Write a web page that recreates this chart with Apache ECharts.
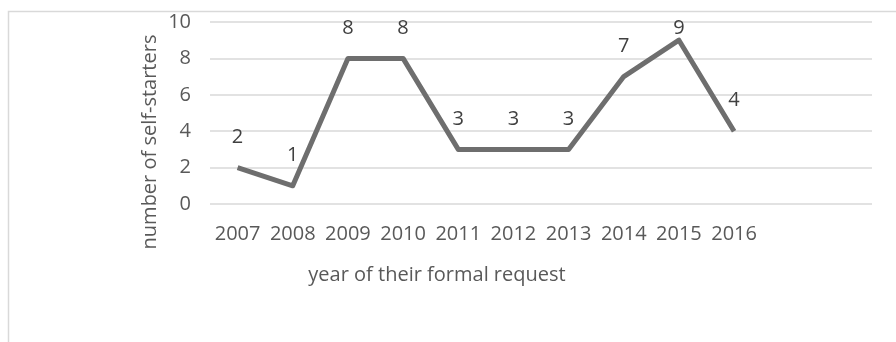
<!DOCTYPE html>
<html>
<head>
<meta charset="utf-8">
<script src="https://cdn.jsdelivr.net/npm/echarts@6/dist/echarts.min.js"></script>
<style>html,body{margin:0;padding:0;background:#fff}#c{width:896px;height:342px}</style>
</head>
<body>
<div id="c"></div>
<script>
var categories = ['2007','2008','2009','2010','2011','2012','2013','2014','2015','2016','',''];
var values = [2, 1, 8, 8, 3, 3, 3, 7, 9, 4, null, null];
var yTicks = { min: 0, max: 10, interval: 2 };
var xTitle = 'year of their formal request';
var yTitle = 'number of self-starters';

var FONT = '"Open Sans", sans-serif';
var FS = 20;
var chart = echarts.init(document.getElementById('c'), null, { renderer: 'canvas' });
var gridTop = 22;
var minLabelCenter = 28;
chart.setOption({
  animation: false,
  backgroundColor: '#fff',
  grid: { left: 210, right: 24, top: gridTop, bottom: 138 },
  xAxis: {
    type: 'category',
    data: categories,
    boundaryGap: true,
    axisLine: { show: false },
    axisTick: { show: false },
    axisLabel: { color: '#595959', fontFamily: FONT, fontSize: FS, margin: 20, interval: 0 }
  },
  yAxis: {
    type: 'value',
    min: yTicks.min, max: yTicks.max, interval: yTicks.interval,
    axisLine: { show: false },
    axisTick: { show: false },
    axisLabel: { color: '#595959', fontFamily: FONT, fontSize: FS, margin: 19 },
    splitLine: { lineStyle: { color: '#d9d9d9', width: 1.5 } }
  },
  series: [{
    type: 'line',
    data: values,
    showSymbol: true,
    symbol: 'circle',
    symbolSize: 1,
    itemStyle: { color: 'rgba(0,0,0,0)' },
    lineStyle: { color: '#6e6e6e', width: 5, join: 'round' },
    label: {
      show: true, position: 'top', distance: 20,
      color: '#404040', fontFamily: FONT, fontSize: FS
    },
    labelLayout: function (p) {
      var r = p.labelRect;
      var cy = r.y + r.height / 2;
      if (cy < minLabelCenter - 2) {
        return { x: r.x + r.width / 2, y: minLabelCenter, align: 'center', verticalAlign: 'middle' };
      }
    }
  }],
  graphic: [
    { type: 'rect', left: 6, top: 9, shape: { width: 900, height: 340 }, style: { fill: 'none', stroke: '#d9d9d9', lineWidth: 1.5 }, silent: true, z: -1 },
    { type: 'text', x: 437, y: 275, style: { text: xTitle, fill: '#595959', font: FS + 'px ' + FONT, align: 'center', verticalAlign: 'middle' } },
    { type: 'text', x: 150, y: 142, rotation: Math.PI / 2, style: { text: yTitle, fill: '#595959', font: FS + 'px ' + FONT, align: 'center', verticalAlign: 'middle' } }
  ]
});
</script>
</body>
</html>
